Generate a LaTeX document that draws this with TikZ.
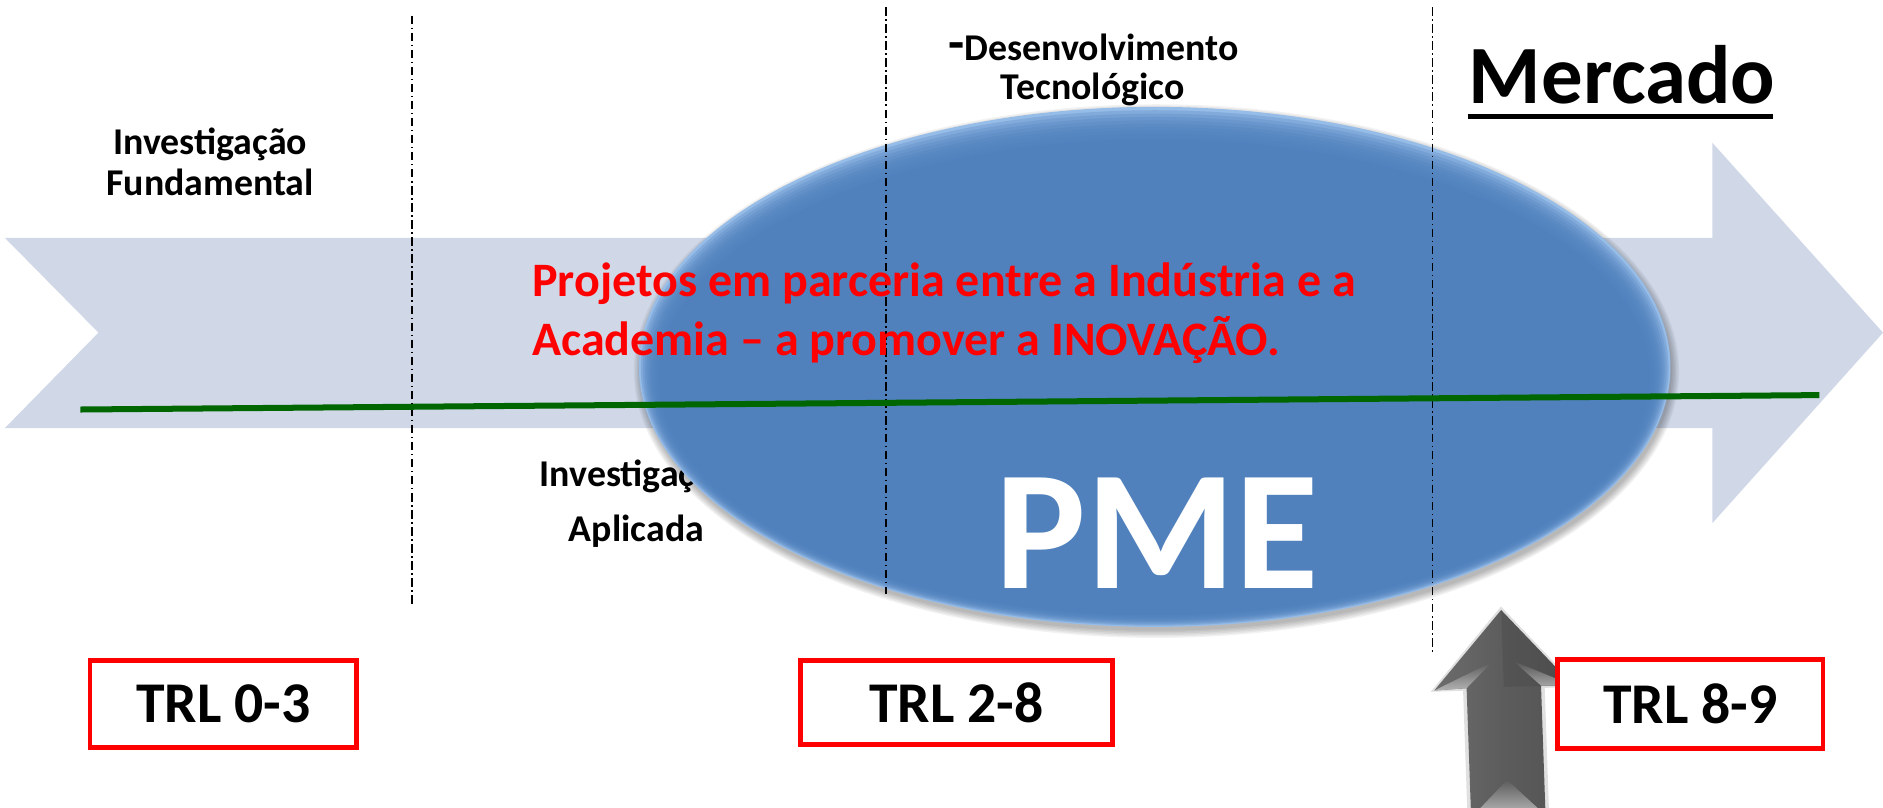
\documentclass[tikz,border=0pt]{standalone}
\usepackage{fontspec}
\setmainfont{Carlito}
\usetikzlibrary{shapes.geometric}
\definecolor{arrowbg}{RGB}{208,216,232}
\definecolor{pmeblue}{RGB}{80,129,189}
\definecolor{pmerim}{RGB}{150,188,232}
\definecolor{lineGreen}{RGB}{0,102,0}
\definecolor{agray}{RGB}{92,92,92}
\begin{document}
\begin{tikzpicture}[x=1pt,y=-1pt,
  lbl/.style={font=\fontsize{31.5}{36}\selectfont\bfseries, inner sep=0pt},
  redtxt/.style={font=\fontsize{40}{46}\selectfont\bfseries, text=red, inner sep=0pt},
  trlbox/.style={draw=red, line width=4pt, fill=white, inner sep=0pt,
     font=\fontsize{48}{50}\selectfont\bfseries},
  dashdot/.style={line width=1.3pt, dash pattern=on 7pt off 3pt on 1.2pt off 3pt}]
\useasboundingbox (0,0) rectangle (1568,672);
\clip (0,0) rectangle (1568,672);
\fill[white] (0,0) rectangle (1568,672);

% big background arrow
\fill[arrowbg] (4,198) -- (1426,198) -- (1426,119) -- (1568,277) -- (1426,435.5)
  -- (1426,356.5) -- (4,356.5) -- (82,277) -- cycle;

% labels
\node[lbl, anchor=base] (fund1) at (175,129) {Investigação};
\node[lbl, anchor=base] (fund2) at (175,162.5) {Fundamental};
\node[lbl, anchor=base] (apl1) at (530,405.5) {Investigação};
\node[lbl, anchor=base] (apl2) at (530,451) {Aplicada};
\node[lbl, anchor=base] (des1) at (910.5,50) {{\fontsize{44}{44}\selectfont -}Desenvolvimento};
\node[lbl, anchor=base] (des2) at (910,82.5) {Tecnológico};

% ellipse PME with shadow and rim
\foreach \i in {1,...,6} {
  \fill[black, opacity=0.05] (963,309) ellipse [x radius=428+\i*1.2, y radius=215+\i*1.2];
}
\fill[pmerim] (961.5,305.5) ellipse [x radius=429.5, y radius=216.5];
\foreach \i in {1,...,10} {
  \fill[pmeblue, opacity=0.28] (961.5,305.5+\i*0.9) ellipse [x radius=429.5-\i*1.6, y radius=216.5-\i*1.9];
}
\fill[pmeblue] (961.5,314) ellipse [x radius=412, y radius=198];

% dash-dot separators
\coordinate (d1t) at (343,13);  \coordinate (d1b) at (343,503);
\coordinate (d2t) at (738,6);   \coordinate (d2b) at (738,495);
\coordinate (d3t) at (1193,6);  \coordinate (d3b) at (1193,544);
\draw[dashdot] (d1t) -- (d1b);
\draw[dashdot] (d2t) -- (d2b);
\draw[dashdot] (d3t) -- (d3b);

% green line
\coordinate (gl) at (67,341);
\coordinate (gr) at (1515,329);
\draw[lineGreen, line width=5pt] (gl) -- (gr);

% red text
\node[redtxt, anchor=base west] (proj1) at (443,247) {Projetos em parceria entre a Indústria e a};
\node[redtxt, anchor=base west] (proj2) at (443,296) {Academia – a promover a INOVAÇÃO.};

% PME
\node[font=\fontsize{142}{142}\selectfont\bfseries, text=white, inner sep=0pt, anchor=base] (pme) at (963.5,489.8) {PME};

% Mercado
\node[font=\fontsize{69}{72}\selectfont\bfseries, inner sep=0pt, anchor=base west] (merc) at (1223,86) {Mercado};
\coordinate (ul) at (1222,97);
\coordinate (ur) at (1476,97);
\draw[line width=4pt] (ul) -- (ur);

% gray up arrow
\begin{scope}[shift={(1250,508)}, rotate=2]
  \fill[black, opacity=0.12] (0,-3) -- (-61,66) -- (-34,66) -- (-34,180) -- (34,180) -- (34,66) -- (61,66) -- cycle;
  \shade[left color=agray!90!white, right color=agray!90!black, middle color=agray]
    (0,0) -- (-58,65) -- (-31,64) -- (-31,180) -- (31,180) -- (31,64) -- (58,65) -- cycle;
  \shade[top color=agray, bottom color=black!30] (-58,65) -- (-9,43) -- (-31,64) -- cycle;
  \shade[top color=agray, bottom color=black!30] (58,65) -- (9,43) -- (31,64) -- cycle;
  \fill[black, opacity=0.08] (0,0) -- (0,64) -- (58,65) -- cycle;
  \shade[top color=agray, bottom color=black!25] (0,141.5) -- (-31,172) -- (31,172) -- cycle;
\end{scope}

% TRL boxes
\node[trlbox, minimum width=222pt, minimum height=72.5pt] (trl1) at (186,586) {TRL 0-3};
\node[trlbox, minimum width=260pt, minimum height=70pt] (trl2) at (796.5,585) {TRL 2-8};
\node[trlbox, minimum width=221pt, minimum height=74pt] (trl3) at (1407.5,586) {TRL 8-9};
\end{tikzpicture}
\end{document}
